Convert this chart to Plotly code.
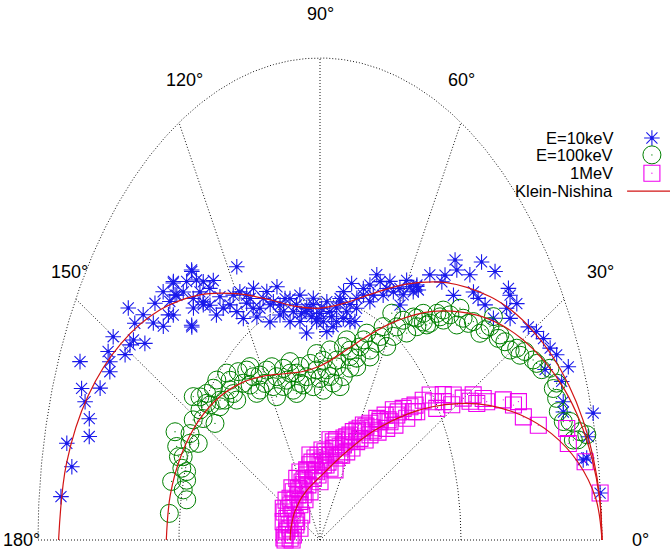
import numpy as np
import plotly.graph_objects as go

# ---------------------------------------------------------------------------
# Klein-Nishina differential cross section, normalised to 1 at 0 deg
# ---------------------------------------------------------------------------
KN_ANGLE = [0, 5, 10, 15, 20, 25, 30, 35, 40, 50, 60, 70, 80, 90,
            100, 110, 120, 130, 140, 150, 160, 170, 180]
KN_10KEV = [1.000, 0.996, 0.984, 0.965, 0.939, 0.907, 0.870, 0.830, 0.786,
            0.697, 0.613, 0.544, 0.499, 0.481, 0.492, 0.531, 0.590, 0.664,
            0.742, 0.815, 0.875, 0.913, 0.927]
KN_100KEV = [1.000, 0.995, 0.979, 0.954, 0.920, 0.878, 0.831, 0.780, 0.726,
             0.619, 0.522, 0.444, 0.390, 0.361, 0.355, 0.367, 0.393, 0.427,
             0.463, 0.496, 0.522, 0.539, 0.545]
KN_1MEV = [1.000, 0.982, 0.929, 0.851, 0.758, 0.661, 0.566, 0.481, 0.407,
           0.295, 0.221, 0.176, 0.148, 0.131, 0.121, 0.115, 0.111, 0.109,
           0.107, 0.107, 0.106, 0.106, 0.106]

# ---------------------------------------------------------------------------
# Simulated scattering events: angle (deg) and relative yield
# ---------------------------------------------------------------------------
ANGLE_10KEV = [174.4, 170.2, 167.4, 165.3, 162.9, 161.0, 159.6, 158.0, 156.5, 154.9,
               153.6, 152.5, 150.1, 150.9, 147.9, 149.0, 146.7, 145.6, 144.7, 143.3,
               140.0, 142.7, 141.4, 139.0, 137.1, 137.2, 134.1, 129.1, 131.4, 131.9,
               135.6, 130.3, 135.0, 129.1,
               117.5, 129.2, 135.3, 135.8, 138.1, 133.0, 130.0, 125.1, 126.8, 125.1,
               128.2, 123.2, 118.9, 116.3, 115.8, 114.3, 110.1, 109.9, 106.2, 103.9,
               105.3, 103.2, 99.7, 96.3, 96.4, 92.8, 90.0, 87.2, 86.8, 83.0,
               80.8, 77.7, 78.1, 73.1, 71.5, 69.9, 66.2, 65.2, 61.5, 60.3,
               57.3, 74.7, 79.8, 91.5, 98.0, 120.6, 134.3, 127.7,
               97.9, 93.6, 89.3, 84.9, 81.8, 102.0, 106.2, 111.9, 117.9, 121.2,
               75.4, 70.3, 65.6, 59.9, 57.0, 84.0, 95.6,
               133.3, 129.6, 125.5, 121.9, 117.1, 113.9, 108.5, 106.9, 101.3, 98.9,
               94.2, 91.5, 88.5, 85.8, 82.6, 78.7, 74.9, 73.6, 69.6, 68.3,
               63.2, 58.7, 116.2, 128.7, 111.4, 92.7, 81.9, 76.8, 59.8,
               50.5, 45.2, 41.9, 49.1, 46.0, 54.7, 51.1, 47.0, 43.4, 38.0,
               37.0, 35.1, 39.8, 41.8, 36.8, 34.3, 36.0, 30.9, 29.4, 27.8,
               26.0, 24.6, 22.2, 23.9, 21.0, 18.4, 15.2, 12.7, 10.2, 5.6,
               56.9, 56.1, 51.1, 10.1, 17.1]
R_10KEV = [0.923, 0.893, 0.920, 0.846, 0.856, 0.881, 0.902, 0.841, 0.928, 0.823,
           0.832, 0.847, 0.846, 0.791, 0.781, 0.786, 0.743, 0.796, 0.833, 0.782,
           0.764, 0.743, 0.711, 0.712, 0.727, 0.758, 0.747, 0.722, 0.715, 0.673,
           0.637, 0.640, 0.718, 0.695,
           0.639, 0.719, 0.723, 0.634, 0.699, 0.658, 0.645, 0.658, 0.652, 0.617,
           0.594, 0.583, 0.588, 0.559, 0.514, 0.573, 0.549, 0.519, 0.547, 0.516,
           0.491, 0.465, 0.495, 0.432, 0.477, 0.489, 0.470, 0.495, 0.433, 0.485,
           0.522, 0.500, 0.544, 0.531, 0.558, 0.586, 0.555, 0.591, 0.594, 0.620,
           0.612, 0.470, 0.467, 0.453, 0.513, 0.534, 0.745, 0.677,
           0.474, 0.464, 0.481, 0.465, 0.499, 0.512, 0.508, 0.540, 0.556, 0.594,
           0.518, 0.525, 0.573, 0.588, 0.631, 0.445, 0.483,
           0.707, 0.668, 0.591, 0.558, 0.571, 0.526, 0.521, 0.488, 0.483, 0.459,
           0.482, 0.460, 0.453, 0.475, 0.457, 0.483, 0.498, 0.544, 0.542, 0.577,
           0.577, 0.615, 0.536, 0.624, 0.486, 0.502, 0.506, 0.465, 0.564,
           0.753, 0.813, 0.834, 0.741, 0.765, 0.674, 0.688, 0.694, 0.749, 0.848,
           0.844, 0.853, 0.762, 0.752, 0.768, 0.816, 0.818, 0.861, 0.881, 0.896,
           0.908, 0.923, 0.951, 0.873, 0.918, 0.909, 1.004, 0.975, 0.961, 0.998,
           0.628, 0.625, 0.706, 0.948, 0.903]

ANGLE_100KEV = [174.1, 170.0, 167.0, 163.3, 165.3, 161.0, 159.1, 155.1, 156.4, 154.4,
                147.0, 148.7, 145.1, 144.3, 140.2, 139.3, 135.5, 133.9, 129.7, 127.6,
                126.4, 121.9, 115.4, 117.6, 109.6, 110.0, 103.5, 100.4, 95.4, 90.0,
                86.1, 81.8, 81.0, 73.4, 78.3, 70.5, 68.9, 63.8, 63.2, 58.4,
                57.1, 52.2, 52.1, 47.4, 61.6, 71.0, 107.0, 121.0, 151.0, 147.6,
                163.1, 140.7, 91.8, 84.9,
                146.5, 142.9, 137.8, 142.1, 135.3, 129.9, 126.4, 124.4, 118.2, 114.4,
                112.2, 107.0, 101.2, 97.9, 94.3, 91.9, 84.1, 80.7, 76.3, 74.4,
                70.1, 69.6, 65.0, 63.2, 59.5, 58.4, 54.4, 54.4, 49.1, 47.5,
                160.4, 156.5, 144.8, 133.7, 124.6, 105.2, 87.8, 77.1, 77.4, 167.9,
                53.3, 51.0, 48.6, 45.4, 42.2, 39.8, 37.1, 36.3, 33.5, 32.1,
                30.3, 29.7, 28.3, 26.3, 24.2, 23.6, 21.2, 19.3, 17.5, 15.5,
                13.0, 13.0, 49.7, 44.1, 37.0,
                46.2, 42.6, 40.5, 36.7, 33.7, 28.4, 25.5, 20.8, 15.9, 13.7,
                106.0, 102.3, 88.2, 74.9, 65.8, 124.9, 135.7, 117.4, 12.8]
R_100KEV = [0.537, 0.480, 0.540, 0.494, 0.489, 0.531, 0.544, 0.476, 0.561, 0.511,
            0.444, 0.485, 0.519, 0.480, 0.492, 0.445, 0.414, 0.460, 0.454, 0.406,
            0.378, 0.403, 0.398, 0.359, 0.352, 0.379, 0.356, 0.327, 0.368, 0.335,
            0.354, 0.329, 0.378, 0.372, 0.410, 0.425, 0.460, 0.455, 0.496, 0.496,
            0.543, 0.560, 0.596, 0.629, 0.535, 0.399, 0.325, 0.379, 0.514, 0.504,
            0.512, 0.458, 0.387, 0.396,
            0.539, 0.504, 0.494, 0.450, 0.432, 0.424, 0.438, 0.377, 0.400, 0.372,
            0.344, 0.362, 0.367, 0.342, 0.319, 0.353, 0.341, 0.364, 0.349, 0.395,
            0.382, 0.443, 0.419, 0.473, 0.466, 0.519, 0.528, 0.569, 0.595, 0.647,
            0.515, 0.503, 0.492, 0.479, 0.437, 0.315, 0.311, 0.426, 0.326, 0.496,
            0.574, 0.582, 0.627, 0.656, 0.685, 0.708, 0.711, 0.748, 0.758, 0.774,
            0.781, 0.803, 0.825, 0.843, 0.862, 0.890, 0.900, 0.889, 0.886, 0.920,
            0.922, 0.971, 0.585, 0.691, 0.770,
            0.632, 0.659, 0.692, 0.730, 0.767, 0.806, 0.851, 0.885, 0.897, 0.949,
            0.385, 0.333, 0.373, 0.408, 0.432, 0.413, 0.446, 0.335, 0.938]

ANGLE_1MEV = [175.2, 167.1, 159.1, 145.3, 140.8, 125.7, 122.8, 109.3, 102.8, 90.0,
              84.5, 76.0, 74.1, 66.1, 62.3, 58.5, 53.8, 51.4, 48.3, 46.1,
              42.8, 40.9, 38.4, 35.5, 33.3, 31.0, 30.1, 29.0, 25.9, 24.1,
              22.2, 19.5, 17.1, 14.8, 12.8, 9.8, 5.6, 37.6, 32.5, 57.5,
              66.4, 76.6, 100.5, 122.3, 155.3, 153.2, 44.7, 37.8, 27.0, 50.9,
              170.0, 152.4, 136.9, 124.4, 114.5, 97.0, 87.5, 78.6, 69.8, 66.4,
              62.9, 56.4, 55.4, 134.3, 180.0, 106.4, 92.3, 74.9, 82.2, 49.5,
              43.8, 39.7,
              171.7, 173.8, 163.7, 153.1, 149.7, 131.7, 133.5, 117.4, 108.0, 94.8,
              96.0, 85.7, 78.6, 70.8, 77.0, 67.2, 64.0, 62.6, 56.1, 57.2,
              50.3, 49.1, 44.4, 43.6, 39.4, 38.8, 33.4, 34.6, 28.4, 26.9,
              22.2, 161.1, 109.5, 90.0, 178.0, 141.4,
              178.2, 180.0, 164.2, 159.9, 155.5, 144.8, 129.9, 132.6, 117.9, 110.5,
              116.7, 100.0, 93.0, 87.8, 80.0, 69.9, 68.1, 68.1, 59.3, 60.1,
              52.4, 51.6, 47.4, 45.9, 41.9, 122.6, 145.5, 101.4, 80.3]
R_1MEV = [0.125, 0.109, 0.126, 0.116, 0.137, 0.132, 0.152, 0.143, 0.160, 0.162,
          0.184, 0.196, 0.216, 0.234, 0.254, 0.272, 0.300, 0.323, 0.347, 0.375,
          0.402, 0.422, 0.467, 0.494, 0.523, 0.545, 0.587, 0.621, 0.657, 0.712,
          0.760, 0.765, 0.810, 0.905, 0.903, 0.954, 0.998, 0.493, 0.560, 0.242,
          0.192, 0.153, 0.130, 0.111, 0.091, 0.146, 0.349, 0.434, 0.624, 0.281,
          0.119, 0.112, 0.122, 0.126, 0.137, 0.146, 0.166, 0.180, 0.206, 0.222,
          0.233, 0.269, 0.287, 0.102, 0.124, 0.151, 0.176, 0.204, 0.157, 0.328,
          0.384, 0.438,
          0.119, 0.095, 0.136, 0.099, 0.130, 0.107, 0.138, 0.129, 0.153, 0.142,
          0.171, 0.156, 0.180, 0.180, 0.209, 0.214, 0.242, 0.206, 0.254, 0.284,
          0.296, 0.325, 0.331, 0.376, 0.398, 0.425, 0.496, 0.531, 0.605, 0.649,
          0.741, 0.075, 0.106, 0.121, 0.106, 0.083,
          0.128, 0.099, 0.114, 0.091, 0.140, 0.126, 0.122, 0.147, 0.136, 0.122,
          0.158, 0.164, 0.135, 0.187, 0.164, 0.155, 0.190, 0.228, 0.222, 0.263,
          0.262, 0.297, 0.304, 0.347, 0.357, 0.099, 0.146, 0.180, 0.211]

GRID_ANGLES = [30, 60, 90, 120, 150]
GRID_RADII = [0.5, 1.0]
TICK_ANGLES = [0, 30, 60, 90, 120, 150, 180]
TICK_TEXT = ["0°", "30°", "60°", "90°", "120°", "150°", "180°"]

LEGEND_NAMES = ["E=10keV", "E=100keV", "1MeV", "Klein-Nishina"]

BLUE = "rgb(25,25,235)"
GREEN = "rgb(0,128,0)"
MAGENTA = "rgb(240,0,240)"
RED = "rgb(210,20,20)"
GRID = "rgb(20,20,20)"
FONT = "Liberation Sans, Arial, Helvetica, sans-serif"


def polar_xy(theta_deg, r):
    t = np.radians(np.asarray(theta_deg, dtype=float))
    r = np.asarray(r, dtype=float)
    return r * np.cos(t), r * np.sin(t)


fig = go.Figure()

# --- polar grid (dotted) ---------------------------------------------------
dotted = dict(color=GRID, width=1, dash="1px,2px")
arc_t = np.linspace(0, 180, 361)
for rr in GRID_RADII:
    gx, gy = polar_xy(arc_t, np.full_like(arc_t, rr))
    fig.add_trace(go.Scatter(x=gx, y=gy, mode="lines", line=dotted,
                             hoverinfo="skip", showlegend=False))
for a in GRID_ANGLES:
    gx, gy = polar_xy([a, a], [0, 1])
    fig.add_trace(go.Scatter(x=gx, y=gy, mode="lines", line=dotted,
                             hoverinfo="skip", showlegend=False))
fig.add_trace(go.Scatter(x=[-1, 1], y=[0, 0], mode="lines", line=dotted,
                         hoverinfo="skip", showlegend=False))

# --- simulated events ------------------------------------------------------
series = [
    (ANGLE_10KEV, R_10KEV, "asterisk-open", 13, BLUE, 1.1, 3.5),
    (ANGLE_100KEV, R_100KEV, "circle-open", 18, GREEN, 1.0, 1.3),
    (ANGLE_1MEV, R_1MEV, "square-open", 16, MAGENTA, 1.1, 1.3),
]
for ang, rad, sym, size, col, lw, dot in series:
    sx, sy = polar_xy(ang, rad)
    fig.add_trace(go.Scatter(
        x=sx, y=sy, mode="markers", showlegend=False,
        marker=dict(symbol=sym, size=size, color=col,
                    line=dict(color=col, width=lw))))
    fig.add_trace(go.Scatter(
        x=sx, y=sy, mode="markers", showlegend=False, hoverinfo="skip",
        marker=dict(symbol="circle", size=dot, color=col, line=dict(width=0))))

# --- Klein-Nishina curves --------------------------------------------------
for kn in (KN_10KEV, KN_100KEV, KN_1MEV):
    cx, cy = polar_xy(KN_ANGLE, kn)
    fig.add_trace(go.Scatter(x=cx, y=cy, mode="lines", showlegend=False,
                             line=dict(color=RED, width=1.2, shape="spline",
                                       smoothing=1.0)))

# --- angle labels ----------------------------------------------------------
label_pos = {
    0: (1.138, 0.0), 30: (0.993, 0.555), 60: (0.500, 0.954),
    90: (0.0, 1.091), 120: (-0.482, 0.954), 150: (-0.887, 0.555),
    180: (-1.057, 0.0),
}
for a, txt in zip(TICK_ANGLES, TICK_TEXT):
    lx, ly = label_pos[a]
    fig.add_annotation(x=lx, y=ly, text=txt, showarrow=False,
                       xanchor="center", yanchor="middle",
                       font=dict(family=FONT, size=18, color="black"))

# --- legend (text left of its key, as drawn by the original plot) ----------
leg_text_x = 1.046
leg_key_x = 1.177
leg_rows = [0.834, 0.799, 0.761, 0.724]
for name, ly in zip(LEGEND_NAMES, leg_rows):
    fig.add_annotation(x=leg_text_x, y=ly, text=name, showarrow=False,
                       xanchor="right", yanchor="middle",
                       font=dict(family=FONT, size=16.5, color="black"))
for (ang, rad, sym, size, col, lw, dot), ly in zip(series, leg_rows[:3]):
    fig.add_trace(go.Scatter(x=[leg_key_x], y=[ly], mode="markers",
                             showlegend=False, hoverinfo="skip",
                             marker=dict(symbol=sym, size=size, color=col,
                                         line=dict(color=col, width=lw))))
    fig.add_trace(go.Scatter(x=[leg_key_x], y=[ly], mode="markers",
                             showlegend=False, hoverinfo="skip",
                             marker=dict(symbol="circle", size=dot, color=col,
                                         line=dict(width=0))))
fig.add_trace(go.Scatter(x=[1.089, 1.25], y=[leg_rows[3], leg_rows[3]],
                         mode="lines", showlegend=False, hoverinfo="skip",
                         line=dict(color=RED, width=1.2)))

W, H = 670, 554
CX, CY, RX, RY = 320, 540, 282, 482
fig.update_layout(
    width=W, height=H, autosize=False,
    margin=dict(l=0, r=0, t=0, b=0),
    paper_bgcolor="white", plot_bgcolor="white",
    xaxis=dict(range=[-CX / RX, (W - CX) / RX], visible=False,
               showgrid=False, zeroline=False, fixedrange=True),
    yaxis=dict(range=[-(H - CY) / RY, CY / RY], visible=False,
               showgrid=False, zeroline=False, fixedrange=True),
    showlegend=False,
)

fig.write_html("out.html")
